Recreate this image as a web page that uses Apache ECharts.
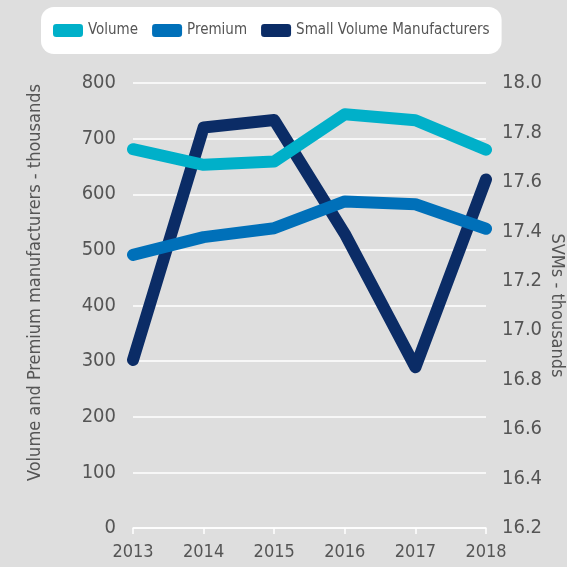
<!DOCTYPE html>
<html><head><meta charset="utf-8">
<script src="https://cdn.jsdelivr.net/npm/echarts@6/dist/echarts.min.js"></script>
<style>html,body{margin:0;padding:0;background:#dedede;}#c{width:567px;height:567px;}</style>
</head><body><div id="c"></div>
<script>
const years = ['2013','2014','2015','2016','2017','2018'];
const volume = [681, 653, 659, 744, 733, 680];
const premium = [491, 523, 539, 587, 582, 538];
const svm = [16.88, 17.82, 17.85, 17.39, 16.85, 17.61];
const leftTicks = {min: 0, max: 800, interval: 100};
const rightTicks = {min: 16.2, max: 18.0, interval: 0.2};

const FONT = '"DejaVu Sans Condensed", "DejaVu Sans", sans-serif';
const TXT = '#555555';
const chart = echarts.init(document.getElementById('c'), null, {renderer: 'canvas'});
chart.setOption({
  backgroundColor: '#dedede',
  animation: false,
  legend: {
    left: 41, top: 7,
    orient: 'horizontal',
    backgroundColor: '#ffffff', borderRadius: 13,
    padding: [16, 12, 16, 12],
    icon: 'roundRect', itemWidth: 30, itemHeight: 13, itemGap: 14,
    textStyle: {fontFamily: FONT, fontSize: 15, color: TXT},
    data: ['Volume', 'Premium', 'Small Volume Manufacturers']
  },
  grid: {left: 133, right: 81, top: 83, bottom: 39, outerBoundsMode: 'none', containLabel: false},
  xAxis: {
    type: 'category', data: years, boundaryGap: false,
    axisLine: {lineStyle: {color: '#ffffff', width: 1.5}},
    axisTick: {show: true, length: 6, lineStyle: {color: '#ffffff', width: 1.5}},
    axisLabel: {fontFamily: FONT, fontSize: 18, color: TXT, margin: 15}
  },
  yAxis: [{
    type: 'value', min: leftTicks.min, max: leftTicks.max, interval: leftTicks.interval,
    name: 'Volume and Premium manufacturers - thousands',
    nameLocation: 'middle', nameGap: 89, nameRotate: 90, nameMoveOverlap: false,
    nameTextStyle: {fontFamily: FONT, fontSize: 18, color: TXT, padding: [0, 0, 0, 46]},
    axisLine: {show: false}, axisTick: {show: false},
    axisLabel: {fontFamily: FONT, fontSize: 20, color: TXT, margin: 17},
    splitLine: {lineStyle: {color: '#ffffff', width: 1.5}}
  }, {
    type: 'value', min: rightTicks.min, max: rightTicks.max, interval: rightTicks.interval,
    name: 'SVMs - thousands',
    nameLocation: 'middle', nameGap: 62, nameRotate: -90, nameMoveOverlap: false,
    nameTextStyle: {fontFamily: FONT, fontSize: 18, color: TXT},
    axisLine: {show: false}, axisTick: {show: false},
    axisLabel: {fontFamily: FONT, fontSize: 20, color: TXT, margin: 16,
      formatter: v => v.toFixed(1)},
    splitLine: {show: false}
  }],
  series: [{
    name: 'Volume', type: 'line', data: volume, yAxisIndex: 0,
    symbol: 'none', color: '#00b0c9',
    lineStyle: {width: 12, cap: 'round', join: 'round'}
  }, {
    name: 'Premium', type: 'line', data: premium, yAxisIndex: 0,
    symbol: 'none', color: '#0070b9',
    lineStyle: {width: 12, cap: 'round', join: 'round'}
  }, {
    name: 'Small Volume Manufacturers', type: 'line', data: svm, yAxisIndex: 1,
    symbol: 'none', color: '#0b2c66', z: 1,
    lineStyle: {width: 12, cap: 'round', join: 'round'}
  }]
});
</script></body></html>
